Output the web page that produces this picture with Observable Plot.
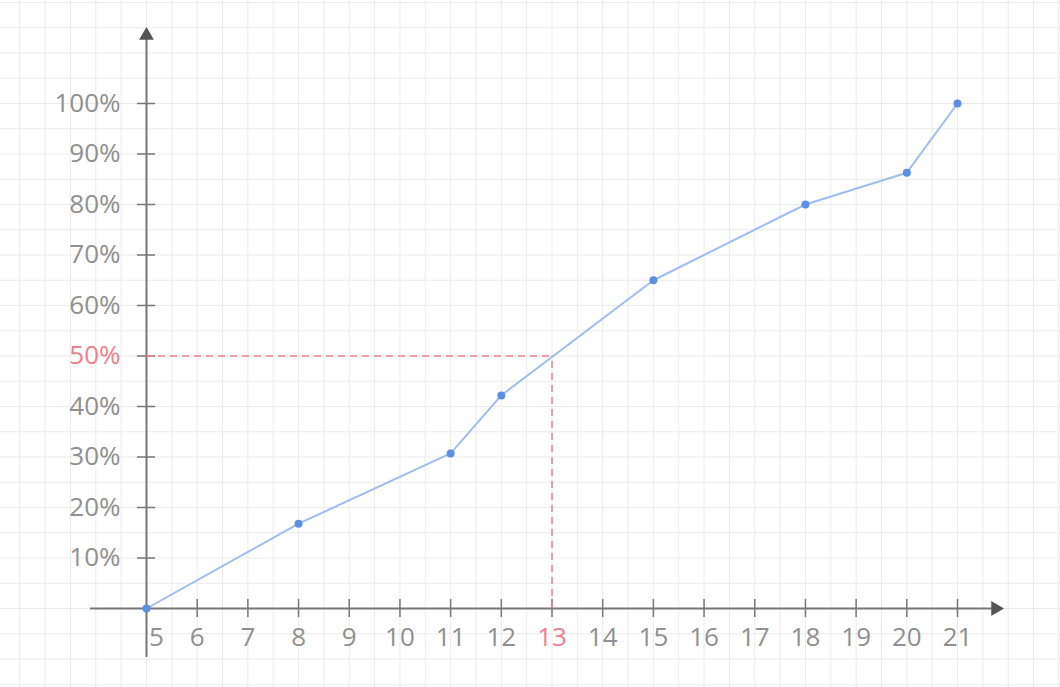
<!DOCTYPE html>
<html>
<head>
<meta charset="utf-8">
<script src="https://cdn.jsdelivr.net/npm/d3@7"></script>
<script src="https://cdn.jsdelivr.net/npm/@observablehq/plot@0.6"></script>
<style>
  html, body { margin: 0; padding: 0; background: #fff; }
  #chart svg { display: block; }
</style>
</head>
<body>
<div id="chart"></div>
<script>
// Data
const xValues = [5, 8, 11, 12, 15, 18, 20, 21];
const yValues = [0, 16.8, 30.7, 42.2, 65, 80, 86.3, 100];
const xTickValues = [5, 6, 7, 8, 9, 10, 11, 12, 13, 14, 15, 16, 17, 18, 19, 20, 21];
const yTickValues = [10, 20, 30, 40, 50, 60, 70, 80, 90, 100];
const highlightX = 13;
const highlightY = 50;

const points = xValues.map((x, i) => ({x, y: yValues[i]}));

// Layout: pixel mapping so that x=5 -> 146px, x=21 -> 957px; y=0 -> 608px, y=100 -> 103px
const W = 1060, H = 687;
const kx = (957 - 146) / 16;
const ky = (608 - 103) / 100;
const xDomain = [5 - 146 / kx, 5 + (W - 146) / kx];
const yDomain = [-(H - 608) / ky, 608 / ky];
const px2x = p => 5 + (p - 146) / kx;
const px2y = p => (608 - p) / ky;

const gridX = d3.range(2.5, 23.01, 0.5);
const gridY = d3.range(-15, 121, 5);

const axisColor = "#777";
const labelColor = "#909090";
const red = "#ee8090";
const tickHalfY = 9 / ky;
const tickHalfX = 9 / kx;
const fs = 26;

const chart = Plot.plot({
  width: W,
  height: H,
  margin: 0,
  x: {domain: xDomain, axis: null},
  y: {domain: yDomain, axis: null},
  style: {fontFamily: "'Open Sans', 'DejaVu Sans', sans-serif", background: "#fff"},
  marks: [
    // background grid
    Plot.ruleX(gridX, {x: d => d, stroke: "#ebebeb", strokeWidth: 1}),
    Plot.ruleY(gridY, {y: d => d, stroke: "#ebebeb", strokeWidth: 1}),
    // axes lines
    Plot.ruleY([0], {x1: px2x(90), x2: px2x(994), stroke: axisColor, strokeWidth: 2}),
    Plot.ruleX([5], {y1: px2y(657), y2: px2y(38), stroke: axisColor, strokeWidth: 2}),
    // arrow heads
    Plot.dot([{x: px2x(995), y: 0}], {x: "x", y: "y", symbol: "triangle", r: 5.5, fill: "#555", stroke: "none", rotate: 90}),
    Plot.dot([{x: 5, y: px2y(35)}], {x: "x", y: "y", symbol: "triangle", r: 5.5, fill: "#555", stroke: "none"}),
    // ticks
    Plot.ruleX(xTickValues.filter(d => d !== 5), {x: d => d, y1: -tickHalfY, y2: tickHalfY, stroke: axisColor, strokeWidth: 1.5}),
    Plot.ruleY(yTickValues, {y: d => d, x1: 5 - tickHalfX, x2: 5 + tickHalfX, stroke: axisColor, strokeWidth: 1.5}),
    // tick labels
    Plot.text(xTickValues.filter(d => d !== 5), {
      x: d => d, y: 0, text: d => String(d), dy: 29,
      fontSize: fs, fill: d => d === highlightX ? red : labelColor
    }),
    Plot.text(xTickValues.filter(d => d === 5), {
      x: d => d, y: 0, text: d => String(d), dy: 29, dx: 10,
      fontSize: fs, fill: labelColor
    }),
    Plot.text(yTickValues, {
      x: 5, y: d => d, text: d => d + "%", dx: -26, textAnchor: "end",
      fontSize: fs, fill: d => d === highlightY ? red : labelColor
    }),
    // highlight dashed lines
    Plot.ruleY([highlightY], {x1: 5, x2: highlightX, stroke: red, strokeWidth: 1.5, strokeDasharray: "7,5"}),
    Plot.ruleX([highlightX], {y1: 0, y2: highlightY, stroke: red, strokeWidth: 1.5, strokeDasharray: "7,5"}),
    // data line and points
    Plot.line(points, {x: "x", y: "y", stroke: "#9dbdf0", strokeWidth: 2}),
    Plot.dot(points, {x: "x", y: "y", r: 4, fill: "#5b8fe3", stroke: "none"})
  ]
});

document.getElementById("chart").appendChild(chart);
</script>
</body>
</html>
